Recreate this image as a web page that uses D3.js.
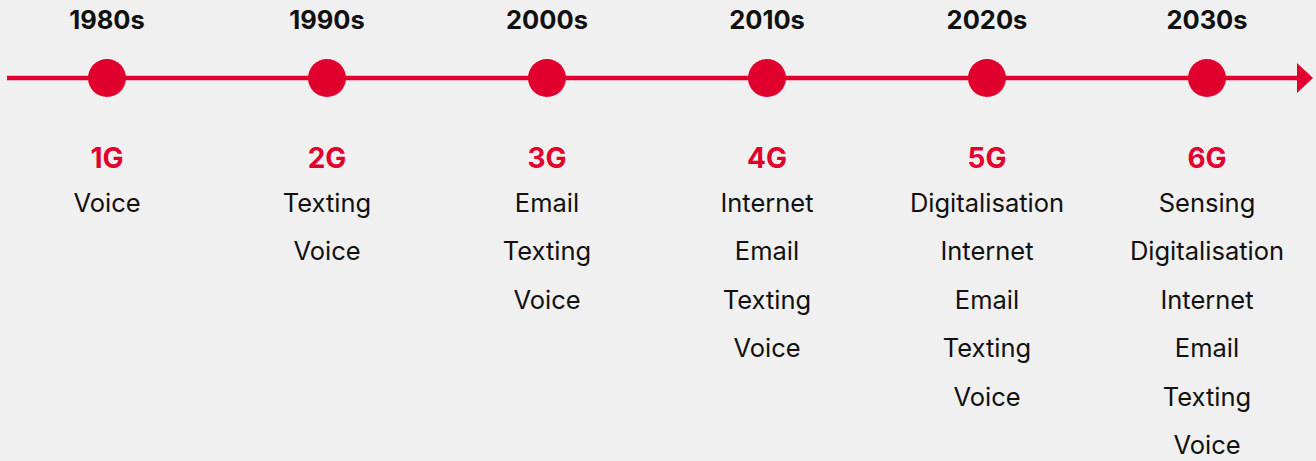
<!DOCTYPE html>
<html lang="en">
<head>
<meta charset="UTF-8">
<title>Mobile generations timeline</title>
<script src="https://d3js.org/d3.v7.min.js"></script>
<style>
    html, body { margin: 0; padding: 0; background: #f0f0f0; }
    svg { display: block; font-family: Inter, "Noto Sans", sans-serif; }
</style>
</head>
<body>
<svg id="chart" width="1316" height="461"></svg>
<script>
    const decades = ["1980s", "1990s", "2000s", "2010s", "2020s", "2030s"];
    const generations = ["1G", "2G", "3G", "4G", "5G", "6G"];
    const uses = [
        ["Voice"],
        ["Texting", "Voice"],
        ["Email", "Texting", "Voice"],
        ["Internet", "Email", "Texting", "Voice"],
        ["Digitalisation", "Internet", "Email", "Texting", "Voice"],
        ["Sensing", "Digitalisation", "Internet", "Email", "Texting", "Voice"]
    ];

    const width = 1316, height = 461;
    const red = "#e1002d";
    const lineY = 78;

    const svg = d3.select("#chart");

    const x = d3.scalePoint()
        .domain(decades)
        .range([107, 1207]);

    // row positions for the list under each generation
    const rowY = d3.scaleLinear().domain([0, 5]).range([205, 447]);

    // main arrow line
    svg.append("line")
        .attr("x1", 7)
        .attr("x2", 1300)
        .attr("y1", lineY)
        .attr("y2", lineY)
        .attr("stroke", red)
        .attr("stroke-width", 4.5);

    svg.append("path")
        .attr("d", `M1297,${lineY - 15} L1313,${lineY} L1297,${lineY + 15} Z`)
        .attr("fill", red);

    const col = svg.selectAll("g.col")
        .data(decades)
        .join("g")
        .attr("class", "col")
        .attr("transform", d => `translate(${x(d)},0)`);

    col.append("text")
        .attr("y", 22)
        .attr("text-anchor", "middle")
        .attr("dominant-baseline", "middle")
        .attr("font-size", 25.5)
        .attr("font-weight", 700)
        .attr("fill", "#111")
        .text(d => d);

    col.append("circle")
        .attr("cy", lineY)
        .attr("r", 19)
        .attr("fill", red);

    col.append("text")
        .attr("y", 160)
        .attr("text-anchor", "middle")
        .attr("dominant-baseline", "middle")
        .attr("font-size", 28)
        .attr("font-weight", 700)
        .attr("fill", red)
        .text((d, i) => generations[i]);

    col.each(function(d, i) {
        d3.select(this).selectAll("text.use")
            .data(uses[i])
            .join("text")
            .attr("class", "use")
            .attr("y", (u, j) => rowY(j))
            .attr("text-anchor", "middle")
            .attr("dominant-baseline", "middle")
            .attr("font-size", 25.5)
            .attr("fill", "#111")
            .text(u => u);
    });
</script>
</body>
</html>
